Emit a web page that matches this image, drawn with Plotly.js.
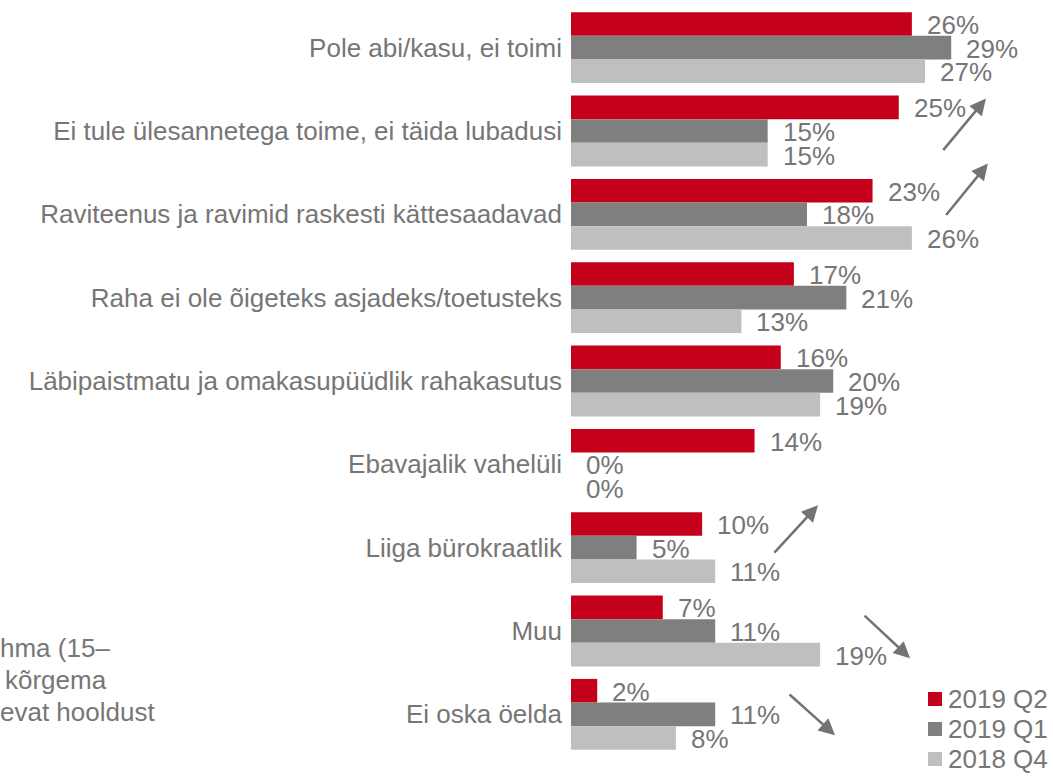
<!DOCTYPE html>
<html><head><meta charset="utf-8">
<script src="https://cdn.plot.ly/plotly-3.0.1.min.js"></script>
<style>html,body{margin:0;padding:0;background:#fff;overflow:hidden}</style>
</head><body><div id="chart" style="width:1053px;height:776px"></div>
<script>
const categories = ["Pole abi/kasu, ei toimi","Ei tule ülesannetega toime, ei täida lubadusi","Raviteenus ja ravimid raskesti kättesaadavad","Raha ei ole õigeteks asjadeks/toetusteks","Läbipaistmatu ja omakasupüüdlik rahakasutus","Ebavajalik vahelüli","Liiga bürokraatlik","Muu","Ei oska öelda"];
const q2_2019 = [26,25,23,17,16,14,10,7,2];
const q1_2019 = [29,15,18,21,20,0,5,11,11];
const q4_2018 = [27,15,26,13,19,0,11,19,8];
const seriesNames = ["2019 Q2","2019 Q1","2018 Q4"];
const sideNoteLines = ["hma (15–","kõrgema","evat hooldust"];

const colors = ["#C5001A","#7F7F7F","#BFBFBF"];
const textColor = "#767676";
const FONT = "Liberation Sans, Arial, sans-serif";
const FS = 26;
const seriesVals = [q2_2019, q1_2019, q4_2018];

// plot area in pixels (for placing paper-referenced decorations)
const PL = 571, PR = 10, PT = 6, PB = 20, W = 1053, H = 776;
const PW = W - PL - PR, PH = H - PT - PB;
const px2x = p => (p - PL) / PW;
const py2y = p => (H - PB - p) / PH;

const traces = seriesVals.map((v,s)=>({
  type:'bar', orientation:'h', name:seriesNames[s],
  y:categories, x:v,
  marker:{color:colors[s], line:{width:0}},
  hoverinfo:'skip', showlegend:false
}));

const annotations = [];
const shapes = [];
const yShifts = [22.6, -1, -24.6];
seriesVals.forEach((v,s)=>{
  v.forEach((val,i)=>{
    annotations.push({x:val, y:categories[i], xref:'x', yref:'y', text:val+'%',
      showarrow:false, xanchor:'left', yanchor:'middle', xshift:13, yshift:yShifts[s],
      font:{family:FONT, size:FS, color:textColor}});
  });
});

// trend arrows: head in data coords, tail offset in px
const arrows = [
  {x:31.65, y:0.611, ax:-44, ay:53},
  {x:31.8, y:1.391, ax:-43, ay:53},
  {x:18.84, y:5.49, ax:-45, ay:49},
  {x:25.86, y:7.326, ax:-47, ay:-44},
  {x:20.14, y:8.25, ax:-47, ay:-42}
];
arrows.forEach(a=>annotations.push({x:a.x, y:a.y, xref:'x', yref:'y', ax:a.ax, ay:a.ay,
  text:'', showarrow:true, arrowhead:2, arrowsize:1.3, arrowwidth:2.5, arrowcolor:'#737373'}));

// clipped side note at far left
const notePos = [{px:0, py:648},{px:5, py:680},{px:0, py:712}];
sideNoteLines.forEach((t,k)=>{
  annotations.push({xref:'paper', yref:'paper', x:px2x(notePos[k].px), y:py2y(notePos[k].py),
    text:t, showarrow:false, xanchor:'left', yanchor:'middle', xshift:-2,
    font:{family:FONT, size:FS, color:textColor}});
});

// legend (drawn manually so its spacing matches the original)
const legY = [699, 729, 759];
seriesNames.forEach((nm,s)=>{
  shapes.push({type:'rect', xref:'paper', yref:'paper',
    x0:px2x(928), x1:px2x(942), y0:py2y(legY[s]-7), y1:py2y(legY[s]+7),
    fillcolor:colors[s], line:{width:0}});
  annotations.push({xref:'paper', yref:'paper', x:px2x(948), y:py2y(legY[s]),
    text:nm, showarrow:false, xanchor:'left', yanchor:'middle', xshift:-2,
    font:{family:FONT, size:FS, color:textColor}});
});

const layout = {
  width:W, height:H,
  margin:{l:PL, r:PR, t:PT, b:PB, pad:0, autoexpand:false},
  paper_bgcolor:'#fff', plot_bgcolor:'#fff',
  barmode:'group', bargap:0.15, bargroupgap:0,
  font:{family:FONT, size:FS, color:textColor},
  xaxis:{range:[0,36], autorange:false, visible:false, showgrid:false, zeroline:false, fixedrange:true},
  yaxis:{range:[categories.length-0.5, -0.5], autorange:false, showgrid:false, zeroline:false, showline:false, ticks:'',
    ticklabelstandoff:8, tickfont:{family:FONT, size:FS, color:textColor}, fixedrange:true,
    automargin:false},
  showlegend:false,
  annotations:annotations, shapes:shapes
};
Plotly.newPlot('chart', traces, layout, {displayModeBar:false, staticPlot:true});
</script></body></html>
